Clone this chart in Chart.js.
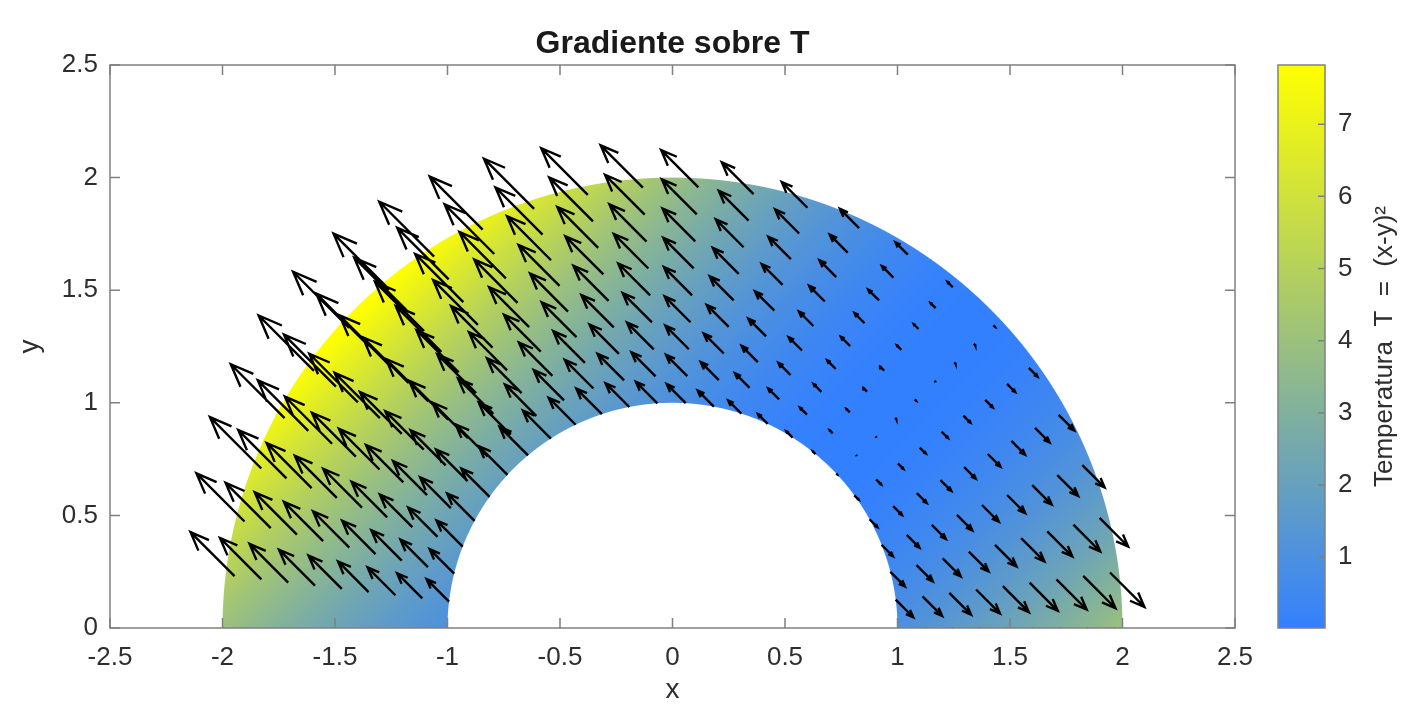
<!DOCTYPE html>
<html><head><meta charset="utf-8">
<script src="https://cdn.jsdelivr.net/npm/chart.js@4/dist/chart.umd.min.js"></script>
<style>html,body{margin:0;padding:0;background:#fff;}#wrap{width:1412px;height:704px;position:relative;}</style>
</head><body><div id="wrap"><canvas id="c" width="1412" height="704"></canvas></div>
<script>
// ---- data ----
const radii = [1, 1.12, 1.24, 1.36, 1.48, 1.6, 1.72, 1.84, 1.96];
const anglesDeg = [0, 7.22, 14.44, 21.66, 28.88, 36.10, 43.31, 50.53, 57.75, 64.97, 72.19, 79.41,
  86.63, 93.85, 101.07, 108.29, 115.50, 122.72, 129.94, 137.16, 144.38, 151.60, 158.82, 166.04, 173.26];
const innerRadius = 1;
const outerRadius = 2;
const colorLimits = [0.02, 7.82];
const arrowScale = 0.045;
const xTicks = [-2.5, -2, -1.5, -1, -0.5, 0, 0.5, 1, 1.5, 2, 2.5];
const xTickLabels = ['-2.5', '-2', '-1.5', '-1', '-0.5', '0', '0.5', '1', '1.5', '2', '2.5'];
const yTicks = [0, 0.5, 1, 1.5, 2, 2.5];
const yTickLabels = ['0', '0.5', '1', '1.5', '2', '2.5'];
const cbTicks = [1, 2, 3, 4, 5, 6, 7];
const cbTickLabels = ['1', '2', '3', '4', '5', '6', '7'];
const titleText = 'Gradiente sobre T';
const xLabel = 'x';
const yLabel = 'y';
const cbLabel = 'Temperatura  T  =  (x-y)\u00B2';

// temperature field named in the colour bar label
function temperature(x, y) { return (x - y) * (x - y); }
function gradT(x, y) { const g = 2 * (x - y); return [g, -g]; }

// colormap: blue -> yellow
const cLow = [51, 128, 255], cHigh = [255, 255, 0];
function cmap(v) {
  let t = (v - colorLimits[0]) / (colorLimits[1] - colorLimits[0]);
  t = Math.max(0, Math.min(1, t));
  return [cLow[0] + (cHigh[0] - cLow[0]) * t, cLow[1] + (cHigh[1] - cLow[1]) * t, cLow[2] + (cHigh[2] - cLow[2]) * t];
}

// quiver arrows as one line dataset with gaps
const headLen = 0.3, headWid = 0.4;
const arrowData = [];
for (const a of anglesDeg) {
  for (const r of radii) {
    const th = a * Math.PI / 180;
    const x = r * Math.cos(th), y = r * Math.sin(th);
    const [gx, gy] = gradT(x, y);
    const u = arrowScale * gx, v = arrowScale * gy;
    const tx = x + u, ty = y + v;
    arrowData.push({x: x, y: y}, {x: tx, y: ty}, {x: tx, y: null},
      {x: tx - headLen * (u + headWid * v), y: ty - headLen * (v - headWid * u)},
      {x: tx, y: ty},
      {x: tx - headLen * (u - headWid * v), y: ty - headLen * (v + headWid * u)},
      {x: tx, y: null});
  }
}

const FONT = "'Liberation Sans', Arial, Helvetica, sans-serif";
const TXT = '#2e2e2e';
const AXC = '#808080';

const fieldPlugin = {
  id: 'field',
  beforeDatasetsDraw(chart) {
    const {ctx, chartArea: a, scales} = chart;
    const xs = scales.x, ys = scales.y;
    const L = Math.round(a.left), T = Math.round(a.top);
    const W = Math.round(a.right) - L, H = Math.round(a.bottom) - T;
    const off = document.createElement('canvas');
    off.width = W; off.height = H;
    const octx = off.getContext('2d');
    const img = octx.createImageData(W, H);
    const d = img.data;
    const pu = Math.abs(xs.getPixelForValue(1) - xs.getPixelForValue(0));
    const pv = Math.abs(ys.getPixelForValue(1) - ys.getPixelForValue(0));
    const xv = new Float64Array(W);
    for (let i = 0; i < W; i++) xv[i] = xs.getValueForPixel(L + i + 0.5);
    const cl = t => Math.max(0, Math.min(1, t));
    for (let j = 0; j < H; j++) {
      const y = ys.getValueForPixel(T + j + 0.5);
      const cy = cl(y * pv + 0.5);
      if (cy <= 0) continue;
      for (let i = 0; i < W; i++) {
        const x = xv[i];
        const r = Math.hypot(x, y);
        const cov = Math.min(cy, cl((outerRadius - r) * pu + 0.5), cl((r - innerRadius) * pu + 0.5));
        if (cov <= 0) continue;
        const c = cmap(temperature(x, y));
        const k = (j * W + i) * 4;
        d[k] = c[0]; d[k + 1] = c[1]; d[k + 2] = c[2]; d[k + 3] = Math.round(cov * 255);
      }
    }
    octx.putImageData(img, 0, 0);
    ctx.drawImage(off, L, T);
  }
};

const framePlugin = {
  id: 'frame',
  afterDatasetsDraw(chart) {
    const {ctx, chartArea: a, scales} = chart;
    const xs = scales.x, ys = scales.y, cb = scales.cb;
    ctx.save();
    ctx.strokeStyle = AXC;
    ctx.lineWidth = 1.5;
    ctx.strokeRect(a.left, a.top, a.right - a.left, a.bottom - a.top);
    const tl = 10;
    ctx.beginPath();
    for (const v of xTicks) {
      const p = xs.getPixelForValue(v);
      ctx.moveTo(p, a.bottom); ctx.lineTo(p, a.bottom - tl);
      ctx.moveTo(p, a.top); ctx.lineTo(p, a.top + tl);
    }
    for (const v of yTicks) {
      const p = ys.getPixelForValue(v);
      ctx.moveTo(a.left, p); ctx.lineTo(a.left + tl, p);
      ctx.moveTo(a.right, p); ctx.lineTo(a.right - tl, p);
    }
    ctx.stroke();

    // colour bar
    const bL = a.right + 43, bW = 47;
    const top = Math.round(cb.top), bot = Math.round(cb.bottom);
    for (let py = top; py < bot; py++) {
      const c = cmap(cb.getValueForPixel(py + 0.5));
      ctx.fillStyle = 'rgb(' + c.map(Math.round).join(',') + ')';
      ctx.fillRect(bL, py, bW, 1);
    }
    ctx.strokeRect(bL, cb.top, bW, cb.bottom - cb.top);
    ctx.beginPath();
    for (const v of cbTicks) {
      const p = cb.getPixelForValue(v);
      ctx.moveTo(bL + bW, p); ctx.lineTo(bL + bW - 7, p);
    }
    ctx.stroke();

    // colour bar label (reads bottom to top)
    ctx.fillStyle = TXT;
    ctx.font = '26px ' + FONT;
    ctx.textAlign = 'center';
    ctx.textBaseline = 'middle';
    ctx.translate(bL + bW + 60, (cb.top + cb.bottom) / 2);
    ctx.rotate(-Math.PI / 2);
    ctx.fillText(cbLabel, 0, 0);
    ctx.restore();
  }
};

const lbl = (vals, labs) => (v) => { const i = vals.findIndex(q => Math.abs(q - v) < 1e-9); return i < 0 ? '' : labs[i]; };

new Chart(document.getElementById('c'), {
  type: 'scatter',
  data: {
    datasets: [{
      data: arrowData,
      showLine: true,
      spanGaps: false,
      borderColor: '#000000',
      borderWidth: 2.4,
      borderJoinStyle: 'miter',
      pointRadius: 0,
      pointHoverRadius: 0,
      tension: 0
    }]
  },
  options: {
    responsive: false,
    animation: false,
    devicePixelRatio: 1,
    events: [],
    layout: {padding: 0},
    plugins: {
      legend: {display: false},
      tooltip: {enabled: false},
      title: {
        display: true, text: titleText, color: '#1a1a1a', fullSize: false,
        font: {family: FONT, size: 32, weight: 'bold', lineHeight: 1.2},
        padding: {top: 25, bottom: 1.6}
      }
    },
    scales: {
      x: {
        type: 'linear', position: 'bottom', min: -2.5, max: 2.5,
        afterBuildTicks: s => { s.ticks = xTicks.map(v => ({value: v})); },
        afterFit: s => { s.height = 76; },
        ticks: {callback: lbl(xTicks, xTickLabels), color: TXT, font: {family: FONT, size: 26}, padding: 14, maxRotation: 0, autoSkip: false},
        grid: {display: false, drawTicks: false},
        border: {display: false},
        title: {display: true, text: xLabel, color: TXT, font: {family: FONT, size: 28, lineHeight: 1}, padding: {top: 0, bottom: 0}}
      },
      y: {
        type: 'linear', position: 'left', min: 0, max: 2.5,
        afterBuildTicks: s => { s.ticks = yTicks.map(v => ({value: v})); },
        afterFit: s => { s.width = 110; },
        ticks: {callback: lbl(yTicks, yTickLabels), color: TXT, font: {family: FONT, size: 26}, padding: 12, autoSkip: false},
        grid: {display: false, drawTicks: false},
        border: {display: false},
        title: {display: true, text: yLabel, color: TXT, font: {family: FONT, size: 28, lineHeight: 1.2}, padding: {top: 13, bottom: 0}}
      },
      cb: {
        type: 'linear', position: 'right', min: colorLimits[0], max: colorLimits[1],
        afterBuildTicks: s => { s.ticks = cbTicks.map(v => ({value: v})); },
        afterFit: s => { s.width = 177; },
        ticks: {callback: lbl(cbTicks, cbTickLabels), color: TXT, font: {family: FONT, size: 26}, padding: 0, autoSkip: false},
        grid: {display: false, drawTicks: true, tickLength: 103},
        border: {display: false}
      }
    }
  },
  plugins: [fieldPlugin, framePlugin]
});
</script>
</body></html>
